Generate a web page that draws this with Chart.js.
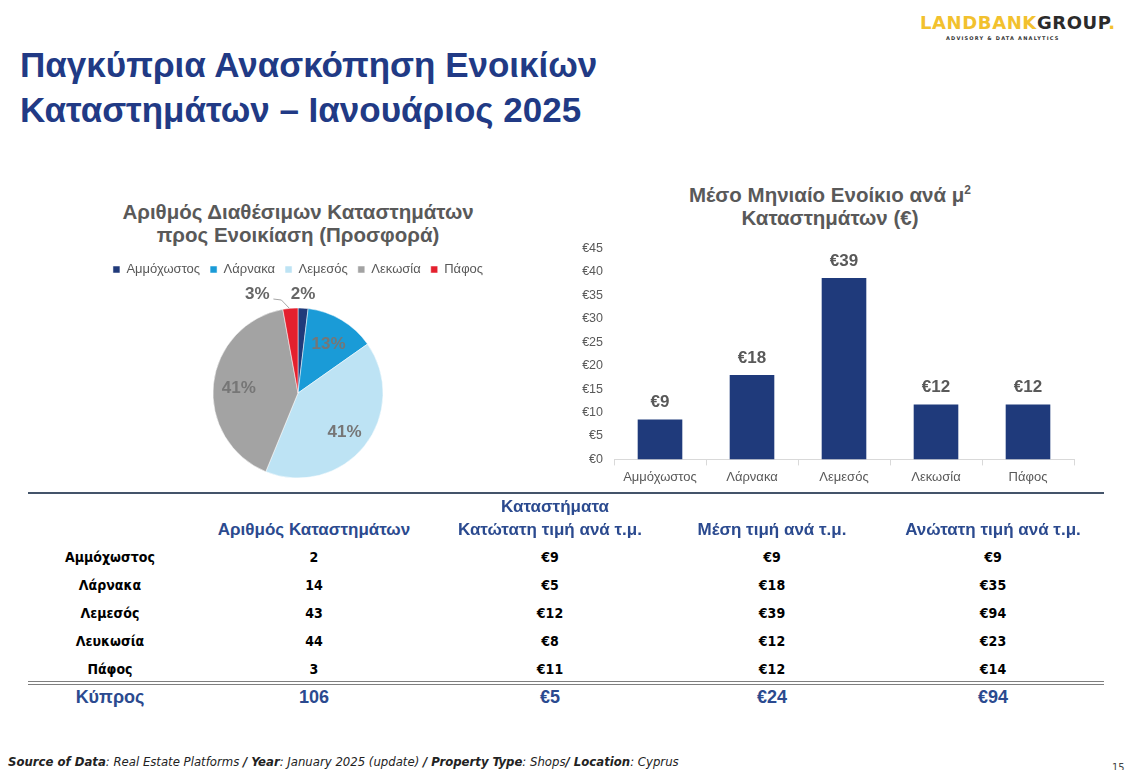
<!DOCTYPE html>
<html lang="el">
<head>
<meta charset="utf-8">
<title>Παγκύπρια Ανασκόπηση Ενοικίων Καταστημάτων</title>
<script src="https://cdn.jsdelivr.net/npm/chart.js@4.4.1/dist/chart.umd.min.js"></script>
<style>
    body { margin: 0; width: 1127px; height: 770px; background: #fff; position: relative; overflow: hidden;
           font-family: "Liberation Sans", Arial, sans-serif; }
    .abs { position: absolute; white-space: nowrap; }
    .c { transform: translate(-50%, -50%); text-align: center; }
    .page-title { left: 20px; font-size: 35px; line-height: 40px; font-weight: bold; color: #213a85; }
    .chart-title { font-size: 20.5px; font-weight: bold; color: #595959; line-height: 23px; }
    .logo { left: 920px; top: 12px; font-family: "DejaVu Sans", sans-serif; font-weight: bold; font-size: 18px; letter-spacing: 0.6px; }
    .logo .y { color: #f2c12e; }
    .logo .g { color: #2b2b2b; }
    .logo-sub { left: 946px; top: 35px; font-family: "DejaVu Sans", sans-serif; font-size: 5px; letter-spacing: 1.2px; color: #333; font-weight: bold; }
    .narrow { font-family: "DejaVu Sans Condensed", sans-serif; }
    .th { font-family: "Liberation Sans", Arial, sans-serif; font-size: 17px; font-weight: bold; color: #2b4a8f; }
    .td { font-family: "DejaVu Sans Condensed", sans-serif; font-size: 14px; font-weight: bold; color: #000; }
    .tt { font-family: "Liberation Sans", Arial, sans-serif; font-size: 18px; font-weight: bold; color: #2b4a8f; }
    .rule { position: absolute; left: 28px; width: 1076px; }
    .footer { left: 8px; top: 754px; font-size: 13px; font-style: italic; color: #222; }
    canvas { position: absolute; }
</style>
</head>
<body>
<div class="abs page-title" style="top:45px">Παγκύπρια Ανασκόπηση Ενοικίων</div>
<div class="abs page-title" style="top:90px">Καταστημάτων – Ιανουάριος 2025</div>

<div class="abs logo"><span class="y">LANDBANK</span><span class="g">GROUP</span><span class="y">.</span></div>
<div class="abs logo-sub">ADVISORY &amp; DATA ANALYTICS</div>

<div class="abs c chart-title" style="left:298px; top:223px">Αριθμός Διαθέσιμων Καταστημάτων<br>προς Ενοικίαση (Προσφορά)</div>
<div class="abs c chart-title" style="left:830px; top:204px">Μέσο Μηνιαίο Ενοίκιο ανά μ<sup style="font-size:12px">2</sup><br>Καταστημάτων (€)</div>

<canvas id="pieChart" width="400" height="247" style="left:98px; top:253px; width:400px; height:247px"></canvas>
<canvas id="barChart" width="512" height="268" style="left:569px; top:230px; width:512px; height:268px"></canvas>

<div class="rule" style="top:492px; height:2px; background:#44546a"></div>
<div class="rule" style="top:681px; height:1px; background:#7f7f7f"></div>
<div class="rule" style="top:684px; height:1px; background:#7f7f7f"></div>
<div id="table"></div>

<div class="abs footer narrow"><b>Source of Data</b>: Real Estate Platforms <b>/ Year</b>: January 2025 (update) <b>/ Property Type</b>: Shops<b>/ Location</b>: Cyprus</div>
<div class="abs narrow" style="left:1112px; top:761px; font-size:11px; color:#444">15</div>

<script>
// Chart data
const regions = ['Αμμόχωστος', 'Λάρνακα', 'Λεμεσός', 'Λεκωσία', 'Πάφος'];
const pieShopCounts = [2, 14, 43, 43, 3];
const avgRentPerSqm = [8.5, 18, 38.7, 11.7, 11.7];
const rentTickStep = 5;
const rentTickMax = 45;

// Table data
const tableRegions = ['Αμμόχωστος', 'Λάρνακα', 'Λεμεσός', 'Λευκωσία', 'Πάφος'];
const shopCounts = [2, 14, 43, 44, 3];
const minPrice = [9, 5, 12, 8, 11];
const meanPrice = [9, 18, 39, 12, 12];
const maxPrice = [9, 35, 94, 23, 14];
const cyprusTotals = [106, 5, 24, 94];
const tableHeaders = ['Αριθμός Καταστημάτων', 'Κατώτατη τιμή ανά τ.μ.', 'Μέση τιμή ανά τ.μ.', 'Ανώτατη τιμή ανά τ.μ.'];

const pieColors = ['#203a7a', '#1a9bd7', '#bde3f4', '#a3a3a3', '#e4202e'];
const barColor = '#1f3a7b';
const labelFont = 'bold 17px "Liberation Sans", Arial, sans-serif';

// Percent labels on the pie
const pieLabels = {
    id: 'pieLabels',
    afterDatasetsDraw(chart) {
        const ctx = chart.ctx;
        const data = chart.data.datasets[0].data;
        const total = data.reduce((a, b) => a + b, 0);
        ctx.save();
        ctx.font = labelFont;
        ctx.textAlign = 'center';
        ctx.textBaseline = 'middle';
        chart.getDatasetMeta(0).data.forEach((arc, i) => {
            const p = arc.getProps(['x', 'y', 'startAngle', 'endAngle', 'outerRadius']);
            const mid = (p.startAngle + p.endAngle) / 2;
            const share = data[i] / total;
            const text = Math.round(share * 100) + '%';
            if (share > 0.05) {
                const r = p.outerRadius * 0.7;
                ctx.fillStyle = '#767676';
                ctx.fillText(text, p.x + Math.cos(mid) * r, p.y + Math.sin(mid) * r + 2);
            } else {
                const ex = p.x + Math.cos(mid) * p.outerRadius;
                const ey = p.y + Math.sin(mid) * p.outerRadius;
                const ly = p.y - p.outerRadius - 14;
                ctx.fillStyle = '#666';
                if (Math.cos(mid) >= 0) {
                    ctx.fillText(text, ex, ly);
                } else {
                    const lx = ex - 33;
                    ctx.fillText(text, lx, ly);
                    ctx.strokeStyle = '#a6a6a6';
                    ctx.lineWidth = 1;
                    ctx.beginPath();
                    ctx.moveTo(lx + 16, ly + 5);
                    ctx.lineTo(lx + 24, ly + 6);
                    ctx.lineTo(ex - 1, ey);
                    ctx.stroke();
                }
            }
        });
        ctx.restore();
    }
};

// Value labels above the bars
const barLabels = {
    id: 'barLabels',
    afterDatasetsDraw(chart) {
        const ctx = chart.ctx;
        const data = chart.data.datasets[0].data;
        ctx.save();
        ctx.font = labelFont;
        ctx.fillStyle = '#595959';
        ctx.textAlign = 'center';
        ctx.textBaseline = 'middle';
        chart.getDatasetMeta(0).data.forEach((bar, i) => {
            ctx.fillText('€' + Math.round(data[i]), bar.x, bar.y - 17);
        });
        ctx.restore();
    }
};

new Chart(document.getElementById('pieChart'), {
    type: 'pie',
    data: {
        labels: regions,
        datasets: [{
            data: pieShopCounts,
            backgroundColor: pieColors,
            borderColor: '#fff',
            borderWidth: 0.5,
            radius: 85
        }]
    },
    options: {
        responsive: false,
        animation: false,
        layout: { padding: 0 },
        plugins: {
            legend: {
                position: 'top',
                labels: {
                    boxWidth: 7,
                    boxHeight: 7,
                    padding: 10,
                    color: '#595959',
                    font: { family: '"Liberation Sans", Arial, sans-serif', size: 13 }
                }
            },
            tooltip: { enabled: false }
        }
    },
    plugins: [pieLabels]
});

new Chart(document.getElementById('barChart'), {
    type: 'bar',
    data: {
        labels: regions,
        datasets: [{
            data: avgRentPerSqm,
            backgroundColor: barColor,
            categoryPercentage: 1,
            barPercentage: 0.485
        }]
    },
    options: {
        responsive: false,
        animation: false,
        layout: { padding: { top: 17, right: 7, bottom: 9, left: 0 } },
        plugins: { legend: { display: false }, tooltip: { enabled: false } },
        scales: {
            x: {
                grid: { drawOnChartArea: false, drawTicks: true, tickLength: 6, color: '#d9d9d9' },
                border: { color: '#d9d9d9' },
                ticks: {
                    color: '#595959', padding: 4,
                    font: { family: '"Liberation Sans", Arial, sans-serif', size: 13 }
                }
            },
            y: {
                min: 0,
                max: rentTickMax,
                grid: { display: false, drawTicks: false },
                border: { display: false },
                afterFit: s => { s.width = 45; },
                ticks: {
                    stepSize: rentTickStep,
                    padding: 11,
                    color: '#595959',
                    font: { family: '"Liberation Sans", Arial, sans-serif', size: 12.5 },
                    callback: v => '€' + v
                }
            }
        }
    },
    plugins: [barLabels]
});

// Table under the charts
const table = document.getElementById('table');
const colX = [314, 550, 772, 993];
const labelX = 110;
const rowY = [557, 585, 613, 641, 669];

function put(text, cx, cy, cls) {
    const el = document.createElement('div');
    el.className = 'abs c ' + cls;
    el.style.left = cx + 'px';
    el.style.top = cy + 'px';
    el.textContent = text;
    table.appendChild(el);
}

put('Καταστήματα', 555, 507, 'th');
tableHeaders.forEach((h, i) => put(h, colX[i], 530, 'th'));
tableRegions.forEach((name, r) => {
    put(name, labelX, rowY[r], 'td');
    put(String(shopCounts[r]), colX[0], rowY[r], 'td');
    put('€' + minPrice[r], colX[1], rowY[r], 'td');
    put('€' + meanPrice[r], colX[2], rowY[r], 'td');
    put('€' + maxPrice[r], colX[3], rowY[r], 'td');
});
put('Κύπρος', labelX, 697, 'tt');
cyprusTotals.forEach((v, i) => put((i === 0 ? '' : '€') + v, colX[i], 697, 'tt'));
</script>
</body>
</html>
